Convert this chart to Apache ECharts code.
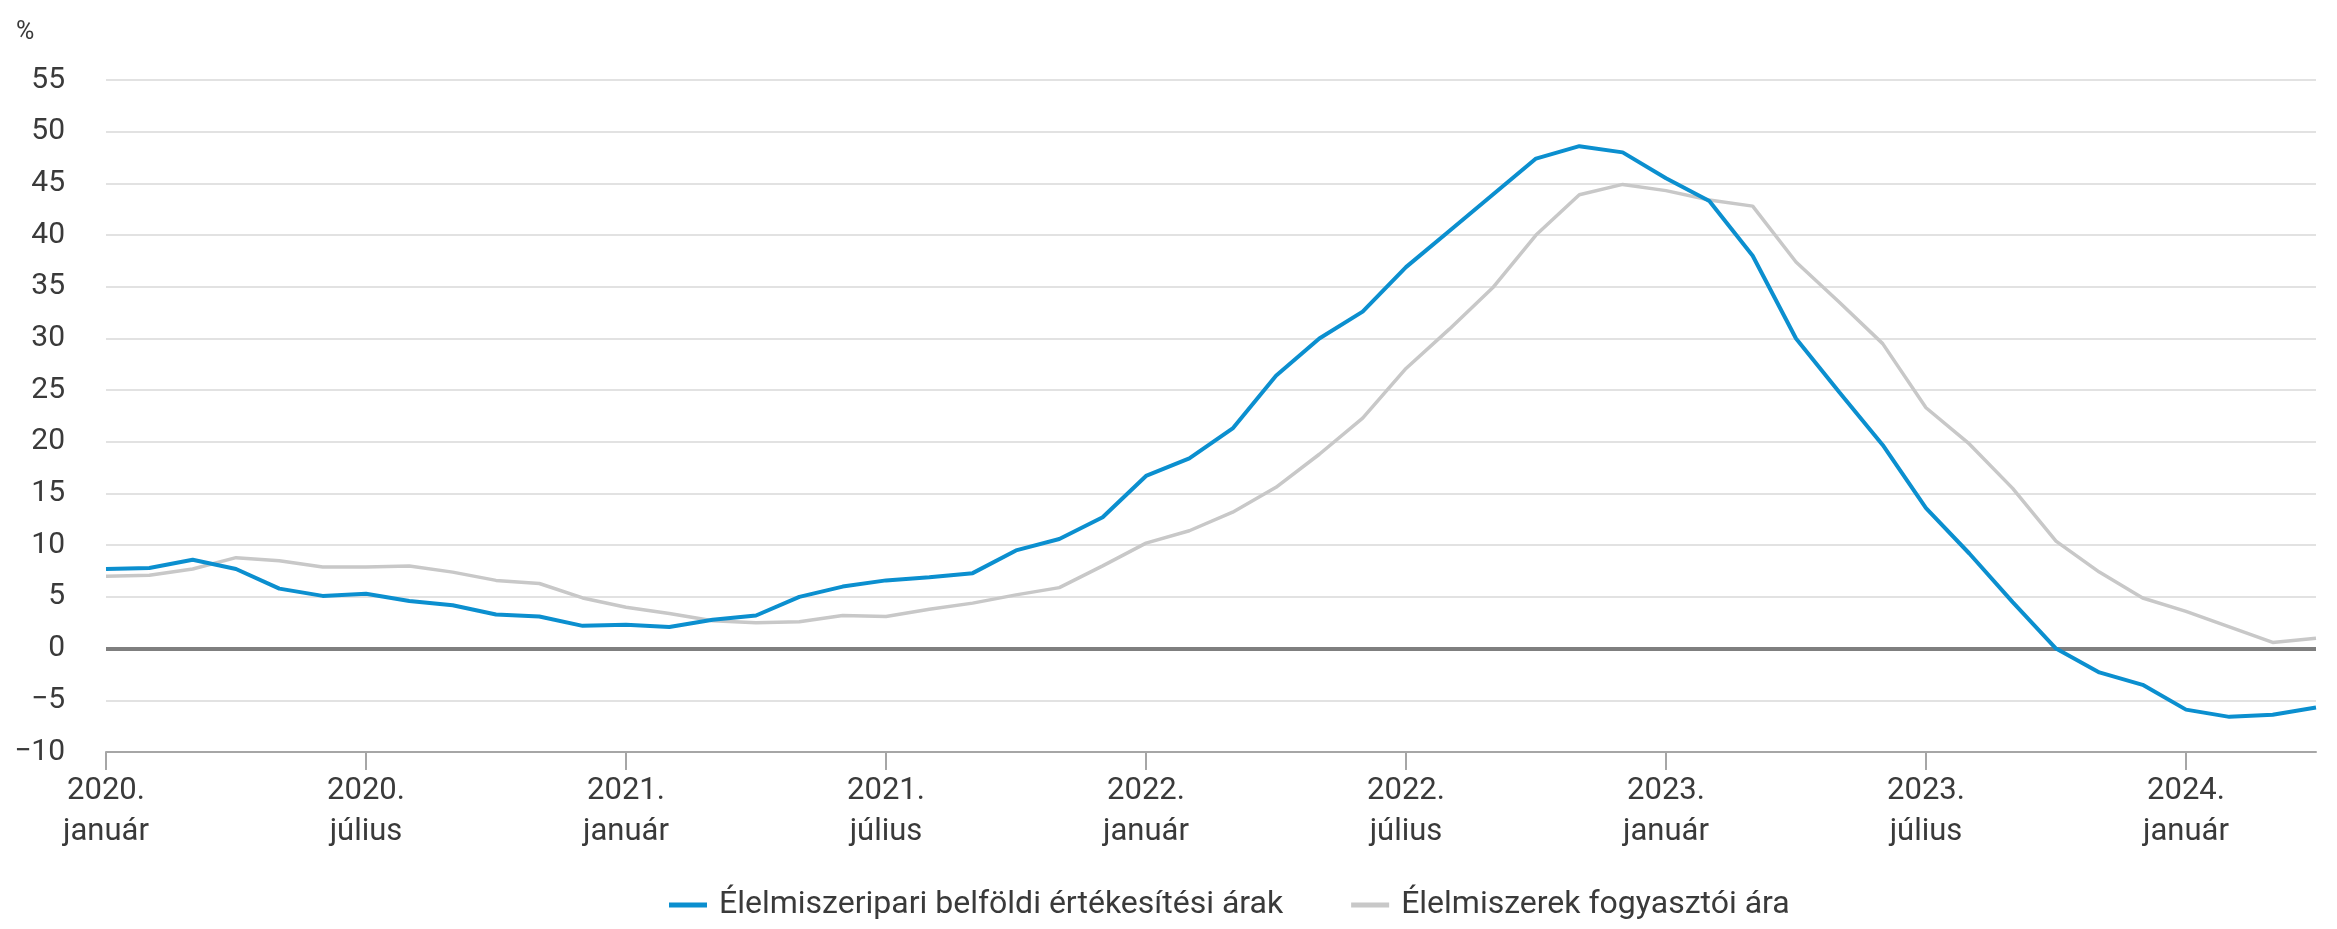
<!DOCTYPE html>
<html>
<head>
<meta charset="utf-8">
<script src="https://cdn.jsdelivr.net/npm/echarts@6/dist/echarts.min.js"></script>
<style>
  html, body { margin: 0; padding: 0; background: #fff; }
  #chart { width: 2337px; height: 929px; }
</style>
</head>
<body>
<div id="chart"></div>
<script>
// ---- Data ----
const years = [2020, 2021, 2022, 2023, 2024];
const monthNames = ["január", "február", "március", "április", "május", "június",
                    "július", "augusztus", "szeptember", "október", "november", "december"];
const monthCount = 52; // 2020. január – 2024. április

const seriesNames = ["Élelmiszeripari belföldi értékesítési árak", "Élelmiszerek fogyasztói ára"];

const foodIndustryPrices = [
  7.7, 7.8, 8.6, 7.7, 5.8, 5.1, 5.3, 4.6, 4.2, 3.3, 3.1, 2.2,
  2.3, 2.1, 2.8, 3.2, 5.0, 6.0, 6.6, 6.9, 7.3, 9.5, 10.6, 12.7,
  16.7, 18.4, 21.3, 26.4, 30.0, 32.6, 36.9, 40.4, 43.9, 47.4, 48.6, 48.0,
  45.5, 43.3, 38.0, 30.0, 24.8, 19.7, 13.6, 9.2, 4.5, 0.0, -2.3, -3.5,
  -5.9, -6.6, -6.4, -5.7
];

const consumerFoodPrices = [
  7.0, 7.1, 7.7, 8.8, 8.5, 7.9, 7.9, 8.0, 7.4, 6.6, 6.3, 4.9,
  4.0, 3.4, 2.7, 2.5, 2.6, 3.2, 3.1, 3.8, 4.4, 5.2, 5.9, 8.0,
  10.2, 11.4, 13.2, 15.6, 18.8, 22.3, 27.1, 30.9, 34.9, 40.0, 43.9, 44.9,
  44.3, 43.4, 42.8, 37.4, 33.5, 29.5, 23.3, 19.8, 15.5, 10.4, 7.4, 4.9,
  3.6, 2.1, 0.6, 1.0
];

const yTicks = { min: -10, max: 55, interval: 5 };

// categories built from the year / month name lists
const categories = [];
for (let i = 0; i < monthCount; i++) {
  categories.push(years[Math.floor(i / 12)] + ". " + monthNames[i % 12]);
}

const FONT = "Roboto";
const TEXT = "#3a3a3a";

const chart = echarts.init(document.getElementById("chart"), null, { renderer: "canvas" });
chart.setOption({
  animation: false,
  backgroundColor: "#ffffff",
  textStyle: { fontFamily: FONT },
  grid: { left: 106, right: 21, top: 80, bottom: 177 },
  graphic: [{
    type: "text",
    left: 16,
    top: 20,
    style: { text: "%", fontFamily: FONT, fontSize: 25, fill: TEXT }
  }],
  legend: {
    top: 884,
    left: 664,
    icon: "rect",
    itemWidth: 38,
    itemHeight: 5,
    itemGap: 68,
    textStyle: { fontFamily: FONT, fontSize: 32, color: TEXT, padding: [0, 0, 0, 7] },
    data: seriesNames
  },
  xAxis: {
    type: "category",
    data: categories,
    boundaryGap: false,
    axisLine: { onZero: false, lineStyle: { color: "#a6a6a6", width: 2 } },
    axisTick: { show: true, interval: 5, length: 18, lineStyle: { color: "#a6a6a6", width: 2 } },
    axisLabel: {
      interval: 5,
      margin: 19,
      fontFamily: FONT,
      fontSize: 31,
      lineHeight: 41,
      color: TEXT,
      formatter: function (v) {
        const parts = v.split(" ");
        return parts[0] + "\n" + parts[1];
      }
    },
    splitLine: { show: false }
  },
  yAxis: {
    type: "value",
    min: yTicks.min,
    max: yTicks.max,
    interval: yTicks.interval,
    axisLine: { show: false },
    axisTick: { show: false },
    axisLabel: {
      margin: 41,
      fontFamily: FONT,
      fontSize: 30,
      color: TEXT,
      formatter: function (v) { return v < 0 ? "\u2212" + Math.abs(v) : String(v); }
    },
    splitLine: { lineStyle: { color: "#e2e2e2", width: 2 } }
  },
  series: [
    {
      name: seriesNames[1],
      type: "line",
      data: consumerFoodPrices,
      symbol: "none",
      z: 3,
      lineStyle: { color: "#c8c8c8", width: 3.5 },
      itemStyle: { color: "#c8c8c8" },
      markLine: {
        silent: true,
        symbol: "none",
        label: { show: false },
        lineStyle: { color: "#7f7f7f", width: 4, type: "solid" },
        data: [{ yAxis: 0 }],
        z: 2
      }
    },
    {
      name: seriesNames[0],
      type: "line",
      data: foodIndustryPrices,
      symbol: "none",
      z: 4,
      lineStyle: { color: "#0b8fcf", width: 4 },
      itemStyle: { color: "#0b8fcf" }
    }
  ]
});
</script>
</body>
</html>
